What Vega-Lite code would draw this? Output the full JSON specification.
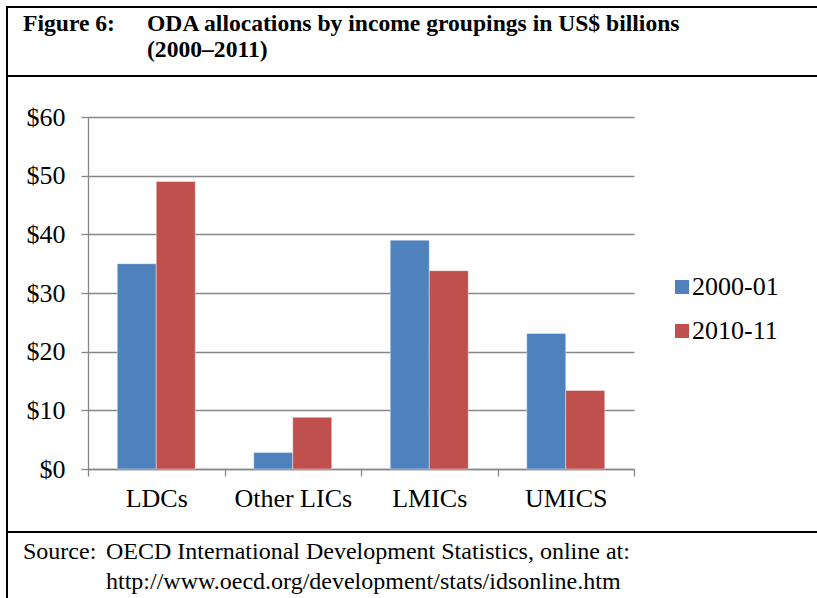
{
  "$schema": "https://vega.github.io/schema/vega-lite/v6.json",
  "padding": {"left": 6, "top": 6, "right": 0, "bottom": 0},
  "background": "white",
  "spacing": 0,
  "bounds": "flush",
  "config": {"font": "Liberation Serif", "view": {"stroke": null}, "concat": {"spacing": 0}},
  "vconcat": [
    {
      "width": 815,
      "height": 69,
      "view": {"stroke": "black", "strokeWidth": 2},
      "data": {"values": [
        {"col": "label", "line": 1, "text": "Figure 6:"},
        {"col": "body", "line": 1, "text": "ODA allocations by income groupings in US$ billions"},
        {"col": "body", "line": 2, "text": "(2000–2011)"}
      ]},
      "mark": {"type": "text", "align": "left", "baseline": "alphabetic", "font": "Liberation Serif", "fontSize": 23.6, "fontWeight": "bold", "color": "black"},
      "encoding": {
        "x": {"field": "col", "type": "nominal", "scale": {"type": "point", "domain": ["label", "body"], "range": [16, 140], "padding": 0}, "axis": null},
        "y": {"field": "line", "type": "ordinal", "scale": {"type": "point", "domain": [1, 2], "range": [24, 50], "padding": 0}, "axis": null},
        "text": {"field": "text"}
      }
    },
    {
      "width": 815,
      "height": 456,
      "view": {"stroke": "black", "strokeWidth": 2},
      "data": {"values": [
        {"group": "LDCs", "period": "2000-01", "value": 35.0},
        {"group": "LDCs", "period": "2010-11", "value": 49.0},
        {"group": "Other LICs", "period": "2000-01", "value": 2.8},
        {"group": "Other LICs", "period": "2010-11", "value": 8.8},
        {"group": "LMICs", "period": "2000-01", "value": 39.0},
        {"group": "LMICs", "period": "2010-11", "value": 33.8},
        {"group": "UMICS", "period": "2000-01", "value": 23.1},
        {"group": "UMICS", "period": "2010-11", "value": 13.4}
      ]},
      "mark": {"type": "bar", "stroke": "#ffffff", "strokeWidth": 0.8, "strokeOpacity": 0.5},
      "encoding": {
        "x": {
          "field": "group", "type": "nominal",
          "sort": ["LDCs", "Other LICs", "LMICs", "UMICS"],
          "scale": {"range": [81, 627], "paddingInner": 0, "paddingOuter": 0},
          "axis": {"title": null, "orient": "bottom", "offset": -63, "labelAngle": 0, "tickBand": "extent", "tickSize": 7, "tickColor": "#878787", "tickWidth": 1.3, "domainColor": "#878787", "domainWidth": 1.3, "labelPadding": 9, "labelFont": "Liberation Serif", "labelFontSize": 26, "labelColor": "black", "grid": false}
        },
        "xOffset": {"field": "period", "type": "nominal", "scale": {"paddingInner": 0, "paddingOuter": 0.75}},
        "y": {
          "field": "value", "type": "quantitative",
          "scale": {"domain": [0, 60], "range": [393, 41], "nice": false},
          "axis": {"title": null, "orient": "left", "offset": -81, "values": [0, 10, 20, 30, 40, 50, 60], "format": "$d", "labelFont": "Liberation Serif", "labelFontSize": 26, "labelColor": "black", "labelPadding": 16, "tickSize": 7, "tickColor": "#878787", "tickWidth": 1.3, "domainColor": "#878787", "domainWidth": 1.3, "grid": true, "gridColor": "#878787", "gridWidth": 1.3}
        },
        "color": {
          "field": "period", "type": "nominal",
          "scale": {"domain": ["2000-01", "2010-11"], "range": ["#4F81BD", "#C0504D"]},
          "legend": {"title": null, "orient": "none", "legendX": 662, "legendY": 267, "symbolType": "square", "symbolSize": 196, "symbolStrokeWidth": 0, "labelFont": "Liberation Serif", "labelFontSize": 26, "labelColor": "black", "labelOffset": -3, "rowPadding": 18, "padding": 0}
        }
      }
    },
    {
      "width": 815,
      "height": 70,
      "view": {"stroke": "black", "strokeWidth": 2},
      "data": {"values": [
        {"col": "label", "line": 1, "text": "Source:"},
        {"col": "body", "line": 1, "text": "OECD International Development Statistics, online at:"},
        {"col": "body", "line": 2, "text": "http://www.oecd.org/development/stats/idsonline.htm"}
      ]},
      "mark": {"type": "text", "align": "left", "baseline": "alphabetic", "font": "Liberation Serif", "fontSize": 24, "color": "black"},
      "encoding": {
        "x": {"field": "col", "type": "nominal", "scale": {"type": "point", "domain": ["label", "body"], "range": [16, 99], "padding": 0}, "axis": null},
        "y": {"field": "line", "type": "ordinal", "scale": {"type": "point", "domain": [1, 2], "range": [27, 57], "padding": 0}, "axis": null},
        "text": {"field": "text"}
      }
    }
  ]
}
